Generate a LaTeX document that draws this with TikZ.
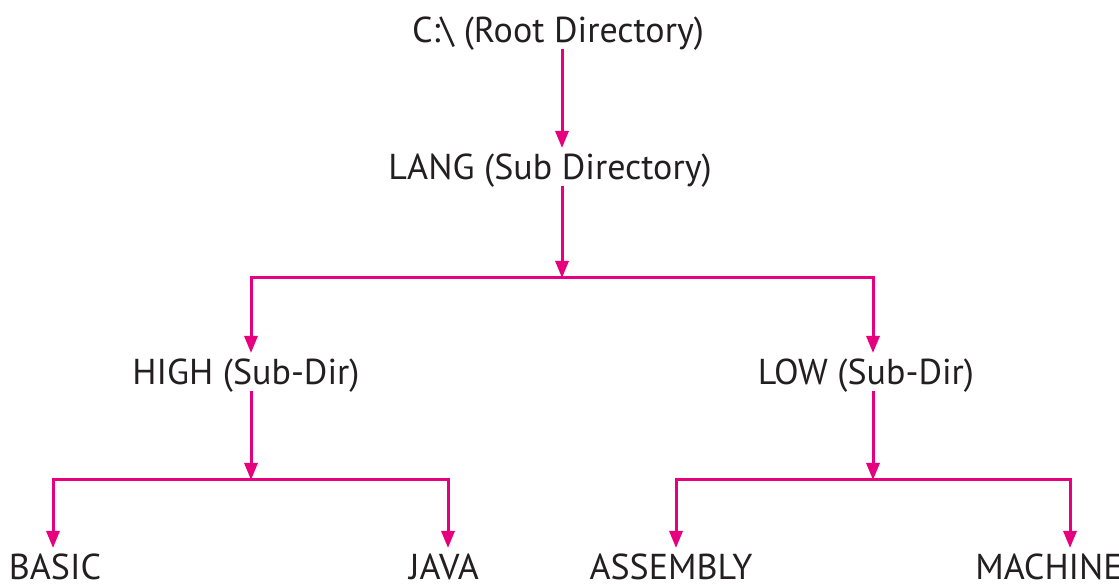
\documentclass[tikz,border=0pt]{standalone}
\usepackage{fontspec}
\setmainfont{PT Sans}
\usetikzlibrary{arrows.meta}
\definecolor{dirpink}{RGB}{230,0,126}
\definecolor{dirtext}{RGB}{35,31,32}

\begin{document}
\begin{tikzpicture}[line cap=butt,line join=miter,>={Triangle[length=17pt,width=13pt]},x=1pt,y=1pt,
    dir/.style={anchor=base,inner sep=0pt,outer sep=0pt,text height=32pt,text depth=6pt,color=dirtext,font=\fontsize{36}{42}\selectfont},
    link/.style={color=dirpink,line width=3pt}]
    \useasboundingbox (0,0) rectangle (1119,586);
    % directory names
    \node[dir] (root) at (558,543) {C:\textbackslash{} (Root Directory)};
    \node[dir] (lang) at (550,406) {LANG (Sub Directory)};
    \node[dir] (high) at (246,201) {HIGH (Sub-Dir)};
    \node[dir] (low) at (866,201) {LOW (Sub-Dir)};
    \node[dir] (basic) at (55,6) {BASIC};
    \node[dir] (java) at (444,6) {JAVA};
    \node[dir] (assembly) at (671,6) {ASSEMBLY};
    \node[dir] (machine) at (1049,6) {MACHINE};
    % forks
    \coordinate (forklang) at (562,308);
    \coordinate (forkhigh) at (251,308);
    \coordinate (forklow) at (873,308);
    \coordinate (joinhigh) at (251,106);
    \coordinate (joinlow) at (873,106);
    \coordinate (forkbasic) at (53,106);
    \coordinate (forkjava) at (448,106);
    \coordinate (forkassembly) at (676,106);
    \coordinate (forkmachine) at (1070,106);
    \draw[link,->] (root.south -| forklang) -- (lang.north -| forklang);
    \draw[link,->] (lang.south -| forklang) -- (forklang);
    \draw[link,->] (forklang) -- (forkhigh) -- (high.north -| forkhigh);
    \draw[link,->] (forklang) -- (forklow) -- (low.north -| forklow);
    \draw[link,->] (high.south -| joinhigh) -- (joinhigh);
    \draw[link,->] (low.south -| joinlow) -- (joinlow);
    \foreach \j/\n in {high/basic,high/java,low/assembly,low/machine}
    \draw[link,->] (join\j) -- (fork\n) -- (\n.north -| fork\n);
\end{tikzpicture}
\end{document}
